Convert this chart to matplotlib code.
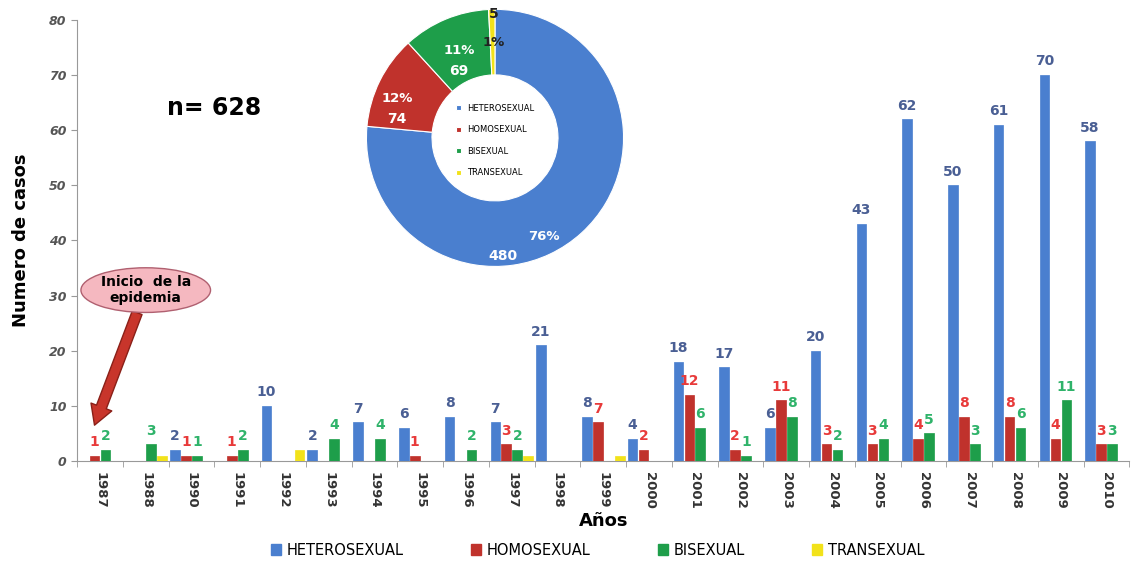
import numpy as np
import matplotlib.pyplot as plt
from matplotlib.patches import Patch

years = ["1987", "1988", "1990", "1991", "1992", "1993", "1994", "1995", "1996",
         "1997", "1998", "1999", "2000", "2001", "2002", "2003", "2004", "2005",
         "2006", "2007", "2008", "2009", "2010"]
hetero = [0, 0, 2, 0, 10, 2, 7, 6, 8, 7, 21, 8, 4, 18, 17, 6, 20, 43, 62, 50, 61, 70, 58]
homo = [1, 0, 1, 1, 0, 0, 0, 1, 0, 3, 0, 7, 2, 12, 2, 11, 3, 3, 4, 8, 8, 4, 3]
bi = [2, 3, 1, 2, 0, 4, 4, 0, 2, 2, 0, 0, 0, 6, 1, 8, 2, 4, 5, 3, 6, 11, 3]
trans = [0, 1, 0, 0, 2, 0, 0, 0, 0, 1, 0, 1, 0, 0, 0, 0, 0, 0, 0, 0, 0, 0, 0]

series = ["HETEROSEXUAL", "HOMOSEXUAL", "BISEXUAL", "TRANSEXUAL"]
totals = [480, 74, 69, 5]

colors = ["#4a7fcf", "#c0322c", "#1e9e4a", "#f2e21a"]
label_colors = ["#4a5f94", "#e83a3a", "#2fb36a", None]

fig = plt.figure(figsize=(11.34, 5.64), dpi=100)
ax = fig.add_axes([0.068, 0.1826, 0.928, 0.782])

x = np.arange(len(years))
slot = 0.24
for i, (vals, c, lc) in enumerate(zip([hetero, homo, bi, trans], colors, label_colors)):
    pos = x + (i - 1.5) * slot
    ax.bar(pos, vals, width=0.21, color=c, edgecolor=c, linewidth=0.5, zorder=3)
    if lc is None:
        continue
    for p, v in zip(pos, vals):
        if v > 0:
            ax.text(p, v + 1.2, str(v), ha="center", va="bottom", color=lc,
                    fontsize=10, fontweight="bold")

ax.set_xlim(-0.5, len(years) - 0.5)
ax.set_ylim(0, 80)
ax.set_yticks(range(0, 81, 10))
for t in ax.get_yticklabels():
    t.set_fontstyle("italic")
    t.set_fontweight("bold")
    t.set_color("#555555")
    t.set_fontsize(9)
ax.set_xticks(x)
ax.set_xticklabels(years, rotation=-90, fontsize=9.5, fontweight="bold", color="#333333")
ax.set_xticks(np.arange(-0.5, len(years), 1), minor=True)
ax.tick_params(axis="x", which="major", length=0, pad=8)
ax.tick_params(axis="x", which="minor", length=4, color="#999999")
ax.tick_params(axis="y", length=4, color="#999999")
for s in ["top", "right"]:
    ax.spines[s].set_visible(False)
ax.spines["left"].set_color("#999999")
ax.spines["bottom"].set_color("#999999")

ax.set_ylabel("Numero de casos", fontsize=13, fontweight="bold", labelpad=14)
ax.set_xlabel("Años", fontsize=13, fontweight="bold", labelpad=2)

ax.text(2.5, 64, "n= 628", fontsize=17, fontweight="bold", ha="center", va="center")

ax.annotate("Inicio  de la\nepidemia", xy=(-0.12, 6.5), xytext=(1.0, 31),
            ha="center", va="center", fontsize=10, fontweight="bold",
            bbox=dict(boxstyle="ellipse,pad=0.05", fc="#f5b8c0", ec="#b06070"),
            arrowprops=dict(arrowstyle="simple,head_width=1.6,head_length=1.4,tail_width=0.75",
                            fc="#c8352b", ec="#8a2018", shrinkA=0, shrinkB=0))

# donut inset
axp = fig.add_axes([0.322, 0.525, 0.229, 0.461])
total = sum(totals)
wedges, _ = axp.pie(
    totals, colors=colors, startangle=90, counterclock=False,
    wedgeprops=dict(width=0.51, edgecolor="white", linewidth=0.8))
axp.set_xlim(-1.01, 1.01)
axp.set_ylim(-1.01, 1.01)
axp.set_aspect("equal")

# label anchor spots (fraction of radius) for percent / count text
pct_spots = [(0.38, -0.77), (-0.76, 0.31), (-0.28, 0.68), (-0.01, 0.74)]
val_spots = [(0.06, -0.92), (-0.76, 0.15), (-0.28, 0.52), (-0.01, 0.96)]
txt_colors = ["white", "white", "white", "#222222"]
for v, ps, vs, tc in zip(totals, pct_spots, val_spots, txt_colors):
    axp.text(ps[0], ps[1], f"{v / total * 100:.0f}%", ha="center", va="center",
             fontsize=9.5, fontweight="bold", color=tc)
    axp.text(vs[0], vs[1], str(v), ha="center", va="center",
             fontsize=10, fontweight="bold", color=tc)
axp.legend(wedges, series, loc="center", bbox_to_anchor=(0.5, 0.49), frameon=False,
           fontsize=6, handlelength=0.6, handleheight=0.6, labelspacing=1.5)

handles = [Patch(facecolor=c, edgecolor=c) for c in colors]
fig.legend(handles, series, loc="lower center", bbox_to_anchor=(0.527, -0.012), ncol=4,
           frameon=False, fontsize=10.5, handlelength=0.7, handleheight=0.7,
           columnspacing=4.6, handletextpad=0.4)

fig.savefig("out.png", dpi=100)
